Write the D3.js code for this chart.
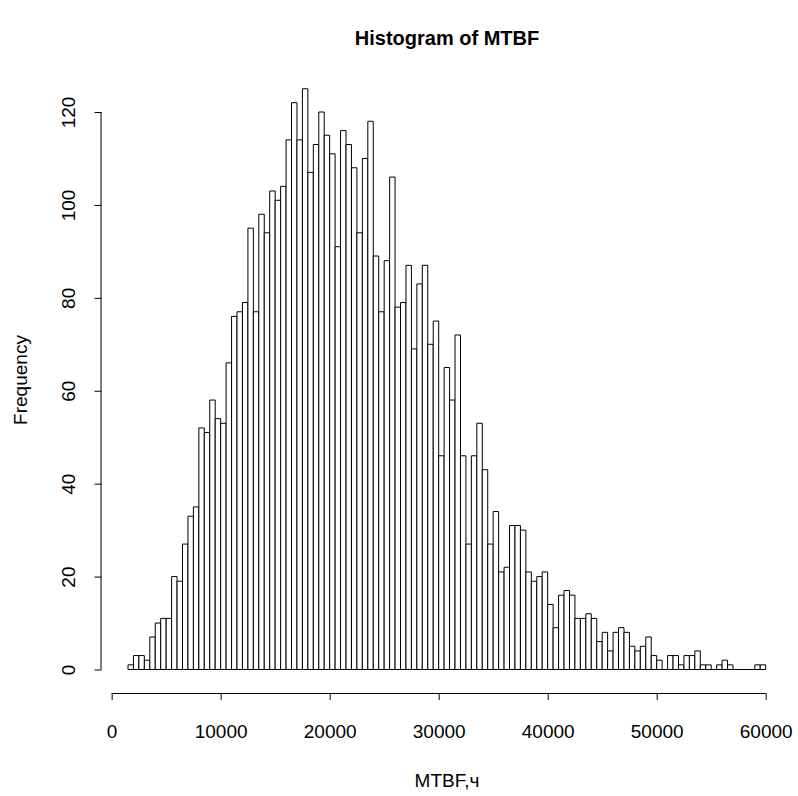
<!DOCTYPE html>
<meta charset="utf-8">
<style>
  body { margin: 0; background: #fff; }
  svg text { font-family: "Liberation Sans", Arial, Helvetica, sans-serif; fill: #000; }
  .bar { fill: #fff; stroke: #000; stroke-width: 1px; }
  .axis path, .axis line { stroke: #000; stroke-width: 1px; }
</style>
<body>
  <div id="hist"></div>

  <script src="https://d3js.org/d3.v7.min.js"></script>
  <script>
    // histogram counts, one per 500 h bin starting at 1500 h
    var binStart = 1500;
    var binWidth = 500;
    var counts = [
      1, 3, 3, 2, 7, 10, 11, 11, 20, 19,
      27, 33, 35, 52, 51, 58, 54, 53, 66, 76,
      77, 79, 95, 77, 98, 94, 103, 101, 104, 114,
      122, 114, 125, 107, 113, 120, 115, 111, 91, 116,
      113, 108, 94, 110, 118, 89, 77, 88, 106, 78,
      79, 87, 69, 83, 87, 70, 75, 46, 65, 58,
      72, 46, 27, 46, 53, 43, 27, 34, 21, 22,
      31, 31, 30, 21, 19, 20, 21, 14, 9, 16,
      17, 16, 11, 11, 12, 11, 6, 8, 4, 8,
      9, 8, 5, 4, 5, 7, 3, 2, 0, 3,
      3, 1, 3, 3, 4, 1, 1, 0, 1, 2,
      1, 0, 0, 0, 0, 1, 1
    ];
    var xTicks = [0, 10000, 20000, 30000, 40000, 50000, 60000];
    var yTicks = [0, 20, 40, 60, 80, 100, 120];

    var width = 798, height = 796;

    var svg = d3.select("#hist")
      .append("svg")
      .attr("width", width)
      .attr("height", height);

    var x = d3.scaleLinear().domain([0, 60000]).range([111.65, 765.7]);
    var y = d3.scaleLinear().domain([0, 120]).range([669.5, 112]);

    var bins = counts.map(function (c, i) {
      return { x0: binStart + i * binWidth, x1: binStart + (i + 1) * binWidth, n: c };
    });

    // bars drawn as closed paths so empty bins still show as a flat line
    svg.append("g")
      .selectAll("path")
      .data(bins)
      .join("path")
      .attr("class", "bar")
      .attr("d", function (d) {
        var l = x(d.x0), r = x(d.x1), b = y(0), t = y(d.n);
        return "M" + l + "," + b + "V" + t + "H" + r + "V" + b + "Z";
      });

    // x axis (R style: sits below the plot, ticks outward)
    var xAxis = svg.append("g")
      .attr("class", "axis")
      .attr("transform", "translate(0,693)")
      .call(d3.axisBottom(x).tickValues(xTicks).tickSize(7).tickSizeOuter(0).tickFormat(d3.format("d")));
    xAxis.select(".domain").attr("d", "M" + x(0) + ",0.5H" + x(60000));
    xAxis.selectAll("text")
      .attr("y", 38).attr("dy", "0.35em")
      .style("font-size", "19px");

    // y axis with labels parallel to the axis
    var yAxis = svg.append("g")
      .attr("class", "axis")
      .attr("transform", "translate(101.5,0)")
      .call(d3.axisLeft(y).tickValues(yTicks).tickSize(7).tickSizeOuter(0));
    yAxis.select(".domain").attr("d", "M-0.5," + y(0) + "V" + y(120));
    yAxis.selectAll("text")
      .attr("transform", "rotate(-90)")
      .attr("x", 0)
      .attr("y", -33.5)
      .attr("dy", "0.35em")
      .attr("text-anchor", "middle")
      .style("font-size", "19px");

    // titles
    svg.append("text")
      .attr("x", 447).attr("y", 38).attr("dy", "0.35em")
      .attr("text-anchor", "middle")
      .style("font-size", "20px").style("font-weight", "bold")
      .text("Histogram of MTBF");

    svg.append("text")
      .attr("x", 447).attr("y", 780).attr("dy", "0.35em")
      .attr("text-anchor", "middle")
      .style("font-size", "19px")
      .text("MTBF,ч");

    svg.append("text")
      .attr("transform", "translate(20,380) rotate(-90)")
      .attr("dy", "0.35em")
      .attr("text-anchor", "middle")
      .style("font-size", "19px")
      .text("Frequency");
  </script>
</body>
